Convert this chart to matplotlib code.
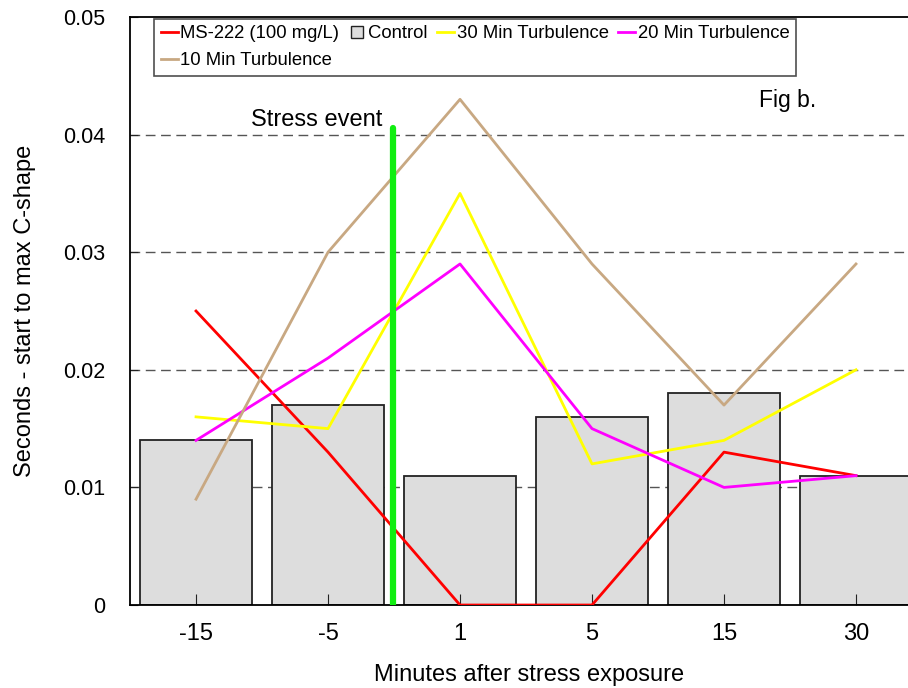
import matplotlib
matplotlib.use("Agg")
import matplotlib.pyplot as plt
from matplotlib.lines import Line2D

plt.rcParams['font.family'] = ['Liberation Sans', 'DejaVu Sans']

# data
categories = ["-15", "-5", "1", "5", "15", "30"]
control = [0.014, 0.017, 0.011, 0.016, 0.018, 0.011]
ms222 = [0.025, 0.013, 0.0, 0.0, 0.013, 0.011]
turb30 = [0.016, 0.015, 0.035, 0.012, 0.014, 0.020]
turb20 = [0.014, 0.021, 0.029, 0.015, 0.010, 0.011]
turb10 = [0.009, 0.030, 0.043, 0.029, 0.017, 0.029]
stress_x = 1.49
stress_top = 0.0406

x = list(range(len(categories)))

fig = plt.figure(figsize=(9.08, 6.88), dpi=100)
ax = fig.add_axes([0.1432, 0.1206, 0.8568, 0.8547])

for yv in [0.01, 0.02, 0.03, 0.04]:
    ax.axhline(yv, color="#555555", lw=1.0, ls=(0, (7, 4)), zorder=0)

ax.bar(x, control, width=0.85, color="#dddddd", edgecolor="#222222", lw=1.3, zorder=1)

ax.plot(x, ms222, color="#ff0000", lw=2.0, zorder=3)
ax.plot(x, turb30, color="#ffff00", lw=2.0, zorder=3)
ax.plot(x, turb20, color="#ff00ff", lw=2.0, zorder=3)
ax.plot(x, turb10, color="#c8a882", lw=2.0, zorder=3)
ax.plot([stress_x, stress_x], [0, stress_top], color="#11ee11", lw=4.5,
        solid_capstyle="round", zorder=4)

ax.text(1.41, 0.0412, "Stress event", ha="right", va="center", fontsize=17)
ax.text(4.48, 0.0429, "Fig b.", ha="center", va="center", fontsize=16.5)

ax.set_xlim(-0.5, 5.394)
ax.set_ylim(0, 0.05)
ax.set_xticks(x)
ax.set_xticklabels(categories)
ax.set_yticks([0, 0.01, 0.02, 0.03, 0.04, 0.05])
ax.set_yticklabels(["0", "0.01", "0.02", "0.03", "0.04", "0.05"])
ax.tick_params(axis="both", direction="in", color="#222222")
ax.tick_params(axis="y", length=6, pad=18, labelsize=15.5)
ax.tick_params(axis="x", length=8, pad=13, labelsize=17)
ax.spines["right"].set_visible(False)
for s in ["left", "top", "bottom"]:
    ax.spines[s].set_linewidth(1.3)

ax.set_xlabel("Minutes after stress exposure", fontsize=17)
ax.xaxis.set_label_coords(0.513, -0.1)
ax.set_ylabel("Seconds - start to max C-shape", fontsize=17, labelpad=19)

handles = [
    Line2D([], [], color="#ff0000", lw=2.0),
    Line2D([], [], color="#c8a882", lw=2.0),
    Line2D([], [], ls="none", marker="s", markersize=9,
           markerfacecolor="#dddddd", markeredgecolor="#222222", markeredgewidth=1.0),
    Line2D([], [], color="#ffff00", lw=2.0),
    Line2D([], [], color="#ff00ff", lw=2.0),
]
labels = ["MS-222 (100 mg/L)", "10 Min Turbulence", "Control",
          "30 Min Turbulence", "20 Min Turbulence"]
leg = ax.legend(handles, labels, loc="upper left", bbox_to_anchor=(0.0285, 1.0),
                ncol=4, fontsize=13.3, frameon=True, fancybox=False,
                edgecolor="#222222", handlelength=0.92, handletextpad=0.15,
                columnspacing=0.5, borderpad=0.35, labelspacing=0.55,
                borderaxespad=0.1)
leg.get_frame().set_linewidth(1.2)

fig.savefig("out.png", dpi=100)
